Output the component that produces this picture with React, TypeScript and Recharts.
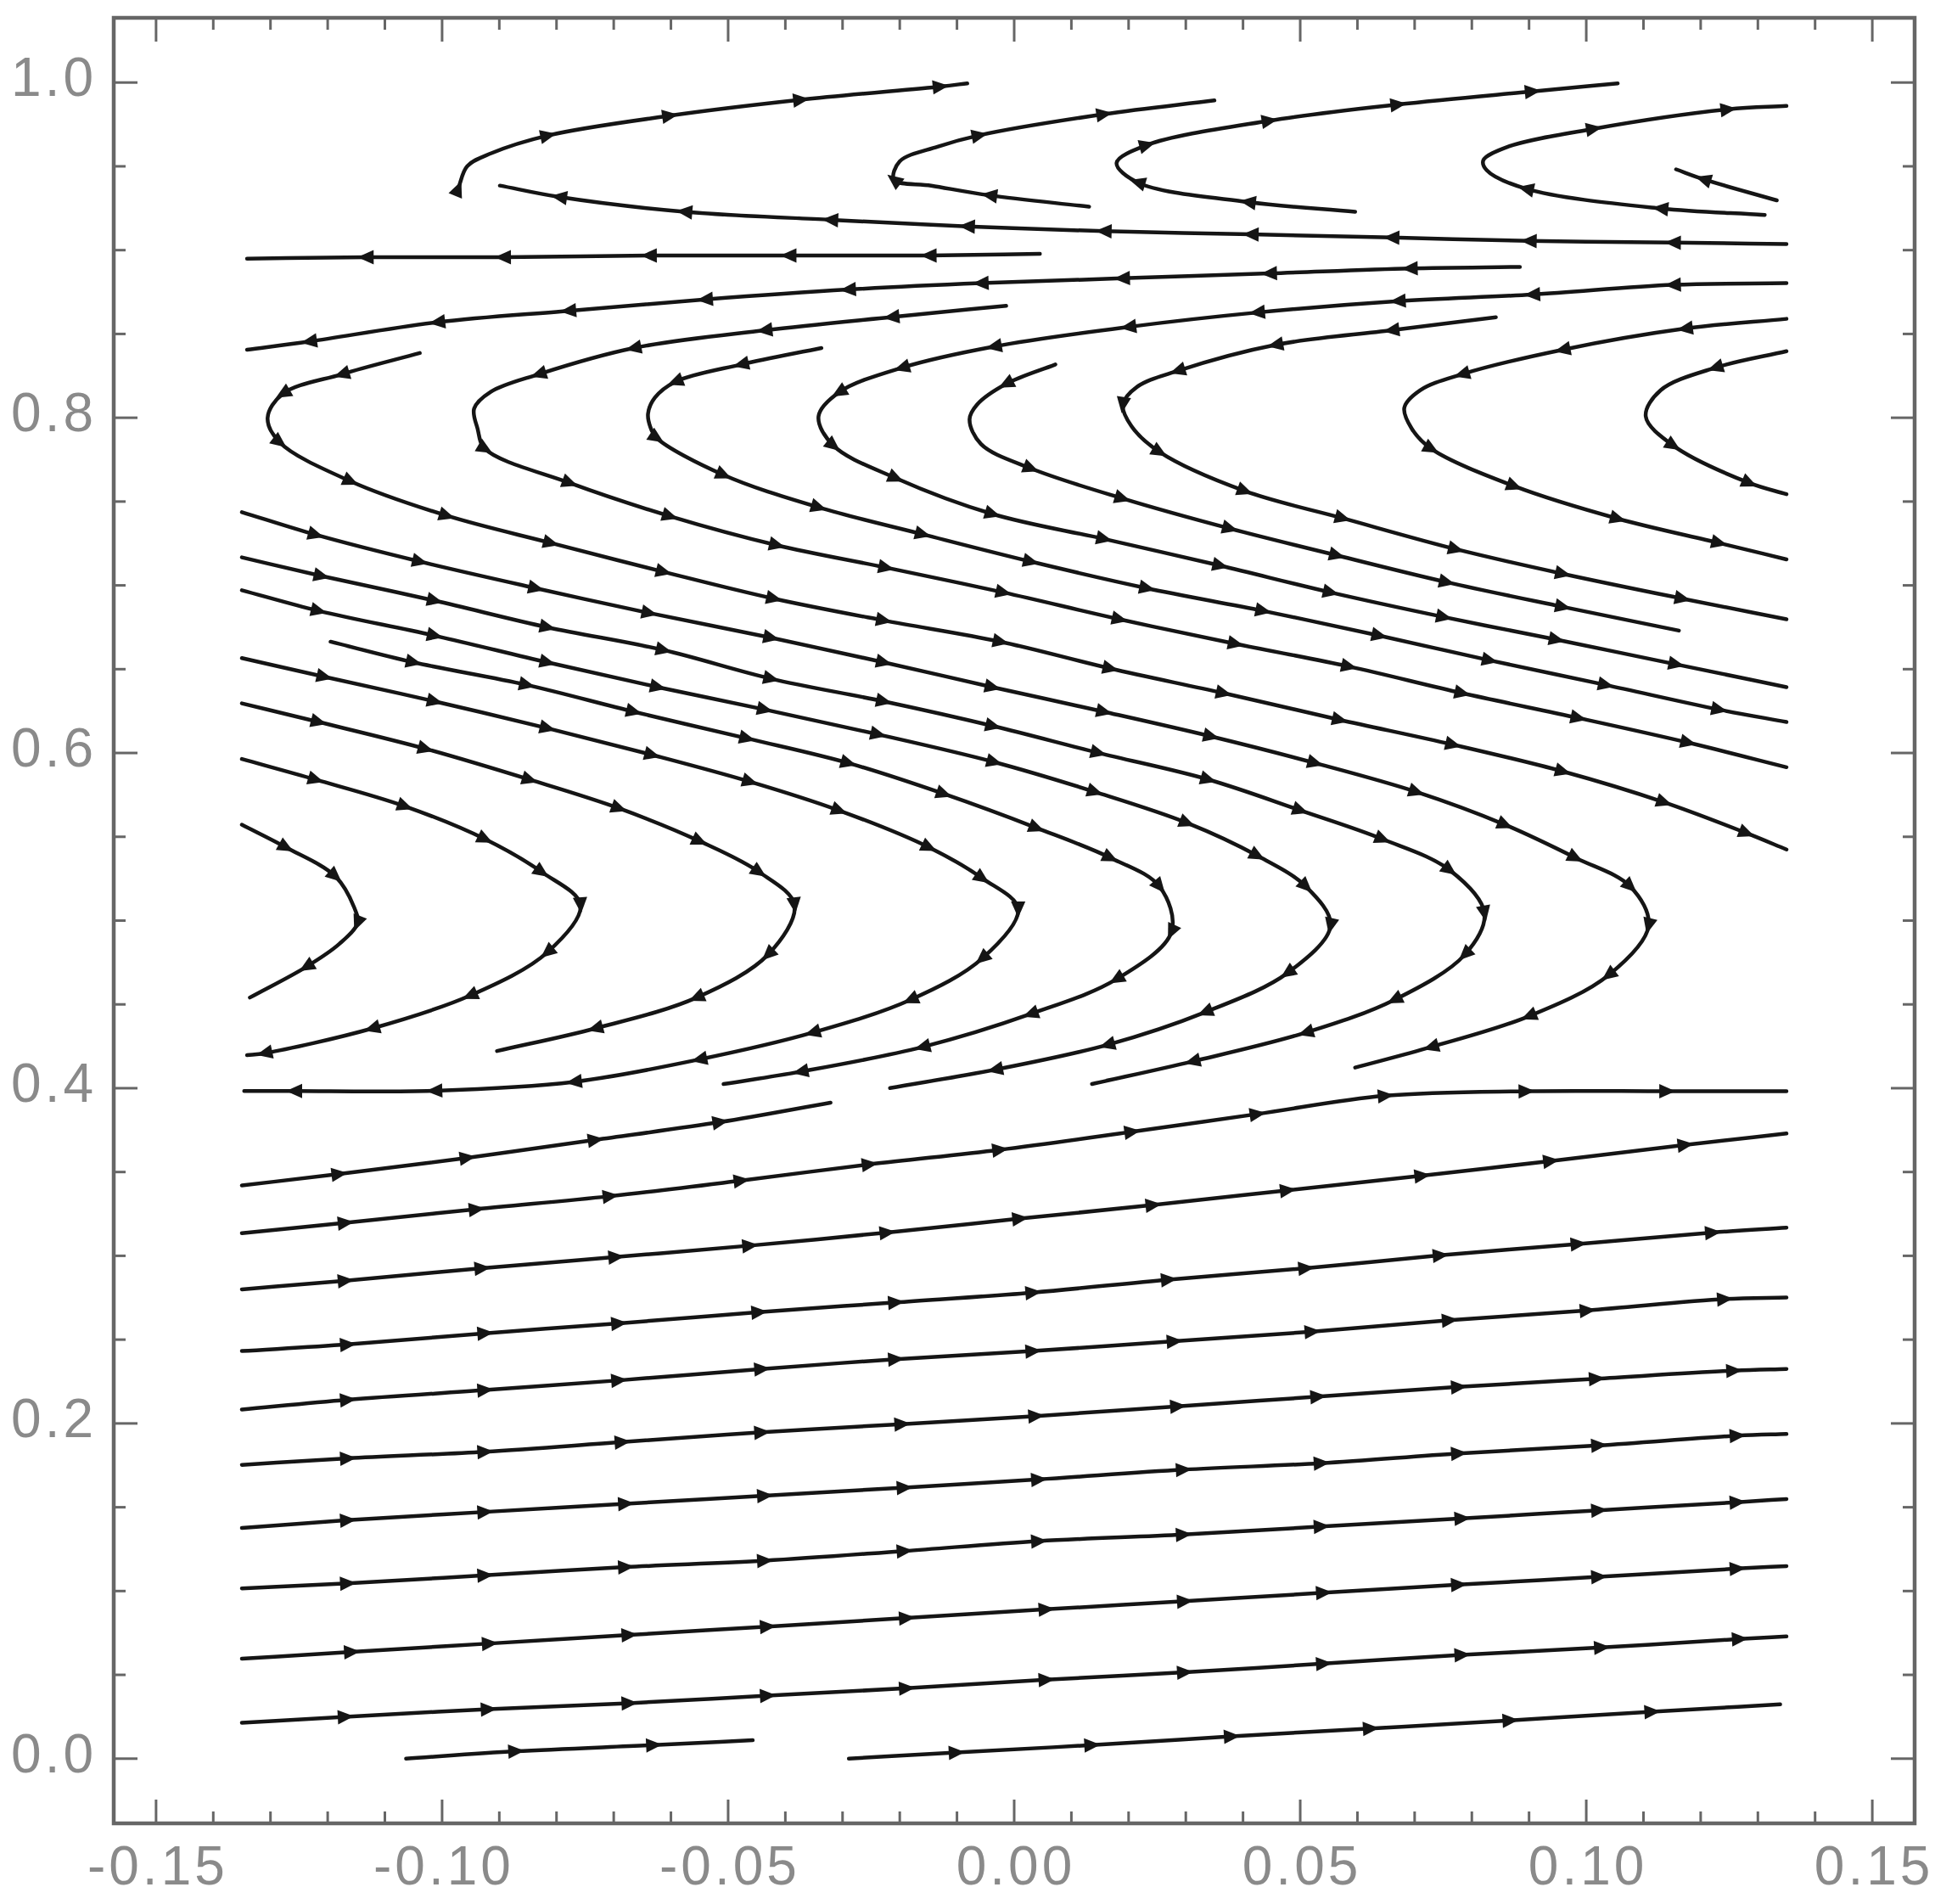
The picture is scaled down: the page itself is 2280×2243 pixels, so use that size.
import React from "react";
import { LineChart, Line, XAxis, YAxis, ReferenceArea } from "recharts";

// page + plot frame (pixels)
const WIDTH = 2280;
const HEIGHT = 2243;
const PLOT = { left: 134, right: 2256, top: 21, bottom: 2148 };

const X_DOMAIN: [number, number] = [-0.1574, 0.1574];
const Y_DOMAIN: [number, number] = [-0.0386, 1.0386];

const xTicks = [
  -0.15, -0.14, -0.13, -0.12, -0.11, -0.1, -0.09, -0.08, -0.07, -0.06, -0.05,
  -0.04, -0.03, -0.02, -0.01, 0, 0.01, 0.02, 0.03, 0.04, 0.05, 0.06, 0.07, 0.08,
  0.09, 0.1, 0.11, 0.12, 0.13, 0.14, 0.15,
];
const yTicks = [
  0, 0.05, 0.1, 0.15, 0.2, 0.25, 0.3, 0.35, 0.4, 0.45, 0.5, 0.55, 0.6, 0.65, 0.7,
  0.75, 0.8, 0.85, 0.9, 0.95, 1.0,
];

type Pt = number[]; // [x, y] or [x, y, 1] when an arrowhead sits on the point

// streamlines, listed in flow order; third value 1 = arrowhead
const rise00a: Pt[] = [[-0.1063, 0.0], [-0.0871, 0.0044, 1], [-0.063, 0.0081, 1], [-0.0457, 0.011]];
const rise00b: Pt[] = [[-0.0289, 0.0], [-0.0101, 0.0037, 1], [0.0136, 0.0081, 1], [0.038, 0.0133, 1], [0.0623, 0.018, 1], [0.0867, 0.0228, 1], [0.1115, 0.028, 1], [0.1339, 0.0324]];
const rise02: Pt[] = [[-0.135, 0.0214], [-0.1169, 0.025, 1], [-0.0919, 0.0295, 1], [-0.0673, 0.0331, 1], [-0.0431, 0.0376, 1], [-0.0188, 0.042, 1], [0.0056, 0.0471, 1], [0.0298, 0.0515, 1], [0.0541, 0.0567, 1], [0.0783, 0.0619, 1], [0.1027, 0.0663, 1], [0.1268, 0.0714, 1], [0.135, 0.0729]];
const rise06: Pt[] = [[-0.135, 0.0596], [-0.1158, 0.0637, 1], [-0.0917, 0.0687, 1], [-0.0673, 0.0738, 1], [-0.0431, 0.0788, 1], [-0.0188, 0.0839, 1], [0.0056, 0.0891, 1], [0.0298, 0.0939, 1], [0.0541, 0.099, 1], [0.0777, 0.1038, 1], [0.1022, 0.1085, 1], [0.1264, 0.1134, 1], [0.135, 0.1149]];
const rise10: Pt[] = [[-0.135, 0.1016], [-0.1165, 0.1046, 1], [-0.0925, 0.1094, 1], [-0.0679, 0.1143, 1], [-0.0436, 0.1181, 1], [-0.0192, 0.1239, 1], [0.0043, 0.1298, 1], [0.0296, 0.1337, 1], [0.0537, 0.1385, 1], [0.0783, 0.1433, 1], [0.1022, 0.1482, 1], [0.1264, 0.153, 1], [0.135, 0.1549]];
const rise14: Pt[] = [[-0.135, 0.1376], [-0.1165, 0.1423, 1], [-0.0925, 0.1472, 1], [-0.0679, 0.1521, 1], [-0.0436, 0.1569, 1], [-0.0192, 0.1617, 1], [0.0043, 0.1666, 1], [0.0296, 0.1724, 1], [0.0537, 0.1763, 1], [0.0777, 0.1821, 1], [0.1022, 0.1869, 1], [0.1264, 0.1927, 1], [0.135, 0.1937]];
const rise18: Pt[] = [[-0.135, 0.1753], [-0.1165, 0.1792, 1], [-0.0925, 0.1831, 1], [-0.0685, 0.1889, 1], [-0.0441, 0.1947, 1], [-0.0196, 0.1996, 1], [0.0038, 0.2044, 1], [0.0286, 0.2102, 1], [0.0531, 0.216, 1], [0.0777, 0.2218, 1], [0.1018, 0.2267, 1], [0.1258, 0.2315, 1], [0.135, 0.2325]];
const rise21: Pt[] = [[-0.135, 0.2083], [-0.1165, 0.2141, 1], [-0.0925, 0.2199, 1], [-0.0691, 0.2257, 1], [-0.0441, 0.2325, 1], [-0.0207, 0.2383, 1], [0.0033, 0.2432, 1], [0.028, 0.249, 1], [0.0521, 0.2548, 1], [0.0761, 0.2616, 1], [0.1002, 0.2674, 1], [0.1242, 0.2742, 1], [0.135, 0.2751]];
const rise24: Pt[] = [[-0.135, 0.2432], [-0.1165, 0.2471, 1], [-0.0925, 0.2538, 1], [-0.0691, 0.2597, 1], [-0.0446, 0.2664, 1], [-0.0207, 0.2722, 1], [0.0033, 0.2781, 1], [0.027, 0.2858, 1], [0.051, 0.2926, 1], [0.0745, 0.3003, 1], [0.0986, 0.3071, 1], [0.1221, 0.3139, 1], [0.135, 0.3168]];
const rise28: Pt[] = [[-0.135, 0.28], [-0.1169, 0.2852, 1], [-0.093, 0.2926, 1], [-0.0696, 0.2993, 1], [-0.0462, 0.3061, 1], [-0.0222, 0.3139, 1], [0.001, 0.3222, 1], [0.0243, 0.3303, 1], [0.0478, 0.3391, 1], [0.0713, 0.3478, 1], [0.0938, 0.3566, 1], [0.1173, 0.3662, 1], [0.135, 0.373]];
const rise31: Pt[] = [[-0.135, 0.3135], [-0.1169, 0.3197, 1], [-0.094, 0.3278, 1], [-0.0706, 0.3356, 1], [-0.0477, 0.3449, 1], [-0.0253, 0.3546, 1], [-0.0025, 0.3633, 1], [0.0206, 0.374, 1], [0.0425, 0.3846, 1], [0.0649, 0.3955, 1], [0.0895, 0.3982, 1], [0.1141, 0.3982, 1], [0.135, 0.3982]];
const rise34: Pt[] = [[-0.135, 0.342], [-0.118, 0.3488, 1], [-0.0956, 0.3585, 1], [-0.0732, 0.3692, 1], [-0.0514, 0.3798, 1], [-0.0321, 0.3914]];

const hook1: Pt[] = [[-0.135, 0.5572], [-0.1273, 0.5437, 1], [-0.1187, 0.5265, 1], [-0.1154, 0.5081], [-0.1148, 0.4985, 1], [-0.118, 0.486], [-0.1237, 0.4725, 1], [-0.1336, 0.4541]];
const hook2: Pt[] = [[-0.135, 0.5964], [-0.1221, 0.5841, 1], [-0.1065, 0.5682, 1], [-0.0925, 0.5486, 1], [-0.0826, 0.529, 1], [-0.0758, 0.5093, 1], [-0.0816, 0.4811, 1], [-0.0951, 0.4553, 1], [-0.1122, 0.4357, 1], [-0.131, 0.4209, 1], [-0.1341, 0.4197]];
const hook3: Pt[] = [[-0.135, 0.6296], [-0.1216, 0.6185, 1], [-0.1029, 0.6025, 1], [-0.0847, 0.5841, 1], [-0.0691, 0.567, 1], [-0.055, 0.5474, 1], [-0.0446, 0.529, 1], [-0.0384, 0.5093, 1], [-0.043, 0.4798, 1], [-0.0555, 0.4541, 1], [-0.0732, 0.4357, 1], [-0.0904, 0.4222]];
const hook4: Pt[] = [[-0.135, 0.6566], [-0.1206, 0.6455, 1], [-0.1013, 0.6308, 1], [-0.0816, 0.6148, 1], [-0.0633, 0.5989, 1], [-0.0462, 0.5829, 1], [-0.0306, 0.5657, 1], [-0.0149, 0.5437, 1], [-0.0056, 0.5253, 1], [0.0007, 0.5069, 1], [-0.0056, 0.4774, 1], [-0.0181, 0.4528, 1], [-0.0352, 0.4332, 1], [-0.055, 0.4172, 1], [-0.0769, 0.4038, 1], [-0.1013, 0.3985, 1], [-0.1258, 0.3983, 1], [-0.1346, 0.3983]];
const hook5: Pt[] = [[-0.1195, 0.6664], [-0.105, 0.6541, 1], [-0.0852, 0.6406, 1], [-0.0665, 0.6246, 1], [-0.0467, 0.6087, 1], [-0.029, 0.594, 1], [-0.0123, 0.5756, 1], [0.0039, 0.5553, 1], [0.0168, 0.5375, 1], [0.0254, 0.5203, 1], [0.0275, 0.4933, 1], [0.0179, 0.4651, 1], [0.0029, 0.4443, 1], [-0.016, 0.4246, 1], [-0.0373, 0.4099, 1], [-0.0508, 0.4025]];
const hook6: Pt[] = [[-0.135, 0.6971], [-0.1216, 0.6848, 1], [-0.1013, 0.67, 1], [-0.0816, 0.6541, 1], [-0.0623, 0.6393, 1], [-0.0436, 0.6259, 1], [-0.0238, 0.6111, 1], [-0.0035, 0.5946, 1], [0.0141, 0.5768, 1], [0.0302, 0.5583, 1], [0.0425, 0.5387, 1], [0.051, 0.5203, 1], [0.0553, 0.497, 1], [0.0478, 0.4688, 1], [0.0334, 0.4454, 1], [0.0163, 0.4259, 1], [-0.0033, 0.4111, 1], [-0.0217, 0.4001]];
const hook7: Pt[] = [[-0.135, 0.7167], [-0.1211, 0.7056, 1], [-0.1013, 0.6909, 1], [-0.0816, 0.675, 1], [-0.0613, 0.6614, 1], [-0.0425, 0.6443, 1], [-0.0228, 0.6308, 1], [-0.0037, 0.6161, 1], [0.0147, 0.6001, 1], [0.0339, 0.5842, 1], [0.05, 0.5658, 1], [0.0644, 0.5486, 1], [0.0761, 0.5302, 1], [0.0822, 0.5044, 1], [0.0788, 0.4798, 1], [0.0665, 0.4528, 1], [0.051, 0.4332, 1], [0.0312, 0.416, 1], [0.0136, 0.4025]];
const hook8: Pt[] = [[-0.135, 0.7437], [-0.1221, 0.7302, 1], [-0.1039, 0.7142, 1], [-0.0836, 0.6983, 1], [-0.0638, 0.6835, 1], [-0.0425, 0.6688, 1], [-0.0228, 0.6541, 1], [-0.0038, 0.6393, 1], [0.0157, 0.6246, 1], [0.0344, 0.6099, 1], [0.0526, 0.594, 1], [0.0703, 0.5768, 1], [0.0858, 0.5572, 1], [0.0981, 0.5375, 1], [0.1077, 0.5203, 1], [0.1109, 0.497, 1], [0.1039, 0.4675, 1], [0.09, 0.443, 1], [0.0729, 0.4246, 1], [0.0596, 0.4123]];

const bend1: Pt[] = [[-0.1039, 0.8386], [-0.1175, 0.826, 1], [-0.1278, 0.8144, 1], [-0.1305, 0.7999], [-0.1284, 0.7854, 1], [-0.116, 0.7621, 1], [-0.0992, 0.7416, 1], [-0.081, 0.7253, 1], [-0.0613, 0.7081, 1], [-0.042, 0.6921, 1], [-0.0228, 0.6791, 1], [-0.0024, 0.6664, 1], [0.0168, 0.6504, 1], [0.0366, 0.6357, 1], [0.0569, 0.6198, 1], [0.0767, 0.605, 1], [0.0959, 0.589, 1], [0.1136, 0.5706, 1], [0.128, 0.5522, 1], [0.135, 0.5424]];
const bend2: Pt[] = [[-0.0014, 0.8668], [-0.0214, 0.8601, 1], [-0.0436, 0.8522, 1], [-0.0665, 0.8416, 1], [-0.0831, 0.826, 1], [-0.0915, 0.8155], [-0.0944, 0.8055], [-0.0938, 0.7935], [-0.0925, 0.7815, 1], [-0.0777, 0.7611, 1], [-0.0602, 0.7413, 1], [-0.0415, 0.724, 1], [-0.0224, 0.7106, 1], [-0.0019, 0.6958, 1], [0.0184, 0.6798, 1], [0.0387, 0.6651, 1], [0.0585, 0.6516, 1], [0.0783, 0.6357, 1], [0.0986, 0.6209, 1], [0.1178, 0.6062, 1], [0.135, 0.5915]];
const bend3: Pt[] = [[-0.0337, 0.8416], [-0.0477, 0.8318, 1], [-0.0592, 0.8215, 1], [-0.0628, 0.812], [-0.064, 0.8025], [-0.0636, 0.7945], [-0.0625, 0.788, 1], [-0.0508, 0.7659, 1], [-0.0342, 0.7466, 1], [-0.016, 0.7305, 1], [0.0029, 0.7142, 1], [0.0232, 0.6983, 1], [0.0435, 0.6848, 1], [0.0638, 0.67, 1], [0.0831, 0.6553, 1], [0.1034, 0.6406, 1], [0.1232, 0.6259, 1], [0.135, 0.6185]];
const bend4: Pt[] = [[0.135, 0.8803], [0.1152, 0.8793, 1], [0.0906, 0.8735, 1], [0.0671, 0.8696, 1], [0.0425, 0.8628, 1], [0.02, 0.8542, 1], [-0.0035, 0.8425, 1], [-0.0196, 0.8299, 1], [-0.0306, 0.8152, 1], [-0.0342, 0.8008], [-0.0316, 0.7834, 1], [-0.0207, 0.764, 1], [-0.0038, 0.7426, 1], [0.0157, 0.7277, 1], [0.036, 0.7118, 1], [0.0553, 0.6958, 1], [0.0751, 0.6811, 1], [0.0948, 0.6676, 1], [0.1157, 0.6529, 1], [0.135, 0.6393]];
const bend5: Pt[] = [[0.0072, 0.8318], [-0.0014, 0.8202, 1], [-0.0065, 0.8078], [-0.0078, 0.799], [-0.0058, 0.7843], [0.0029, 0.7698, 1], [0.0189, 0.7519, 1], [0.0377, 0.7339, 1], [0.0564, 0.7179, 1], [0.0756, 0.7019, 1], [0.0959, 0.6872, 1], [0.1162, 0.673]];
const bend6: Pt[] = [[0.0842, 0.86], [0.066, 0.8522, 1], [0.0457, 0.8435, 1], [0.0286, 0.828, 1], [0.0215, 0.8185], [0.019, 0.8078, 1], [0.0205, 0.7950], [0.0254, 0.7796, 1], [0.0403, 0.7563, 1], [0.0574, 0.7401, 1], [0.0772, 0.7216, 1], [0.0959, 0.7069, 1], [0.1168, 0.6921, 1], [0.135, 0.6798]];
const bend7: Pt[] = [[0.135, 0.859], [0.1173, 0.8532, 1], [0.0959, 0.8406, 1], [0.0783, 0.826, 1], [0.071, 0.8165], [0.0682, 0.806], [0.0695, 0.7935], [0.0729, 0.7815, 1], [0.0874, 0.7592, 1], [0.1055, 0.7398, 1], [0.1232, 0.7253, 1], [0.135, 0.7155]];
const bend8: Pt[] = [[0.135, 0.8397], [0.1226, 0.8299, 1], [0.113, 0.8164], [0.1104, 0.8008], [0.1152, 0.7834, 1], [0.1285, 0.7611, 1], [0.135, 0.7544]];

const band88: Pt[] = [[0.0884, 0.89], [0.0692, 0.8891, 1], [0.0446, 0.8861, 1], [0.0189, 0.8832, 1], [-0.0058, 0.8803, 1], [-0.029, 0.8765, 1], [-0.054, 0.8706, 1], [-0.0779, 0.8638, 1], [-0.1008, 0.857, 1], [-0.1232, 0.8455, 1], [-0.1341, 0.8406]];
const band90: Pt[] = [[0.0045, 0.8978], [-0.0149, 0.8968, 1], [-0.0394, 0.8968, 1], [-0.0638, 0.8968, 1], [-0.0893, 0.8958, 1], [-0.1133, 0.8958, 1], [-0.1341, 0.8949]];

const top1Lower: Pt[] = [[0.135, 0.9036], [0.1152, 0.9045, 1], [0.09, 0.9055, 1], [0.066, 0.9075, 1], [0.0414, 0.9094, 1], [0.0157, 0.9113, 1], [-0.0082, 0.9142, 1], [-0.0321, 0.9181, 1], [-0.0576, 0.9229, 1], [-0.0795, 0.9317, 1], [-0.0899, 0.9385]];
const top1Upper: Pt[] = [[-0.0972, 0.9366, 1], [-0.0956, 0.9501], [-0.0914, 0.9578], [-0.0815, 0.9684, 1], [-0.0602, 0.9802, 1], [-0.0373, 0.9897, 1], [-0.0129, 0.9976, 1], [-0.0082, 0.9995]];
const top2: Pt[] = [[0.0131, 0.9259], [-0.0043, 0.9327, 1], [-0.0145, 0.9385], [-0.021, 0.942, 1], [-0.02, 0.953], [-0.0134, 0.9617], [-0.0061, 0.9685, 1], [0.0157, 0.9811, 1], [0.035, 0.9893]];
const top3: Pt[] = [[0.0596, 0.9229], [0.0409, 0.9287, 1], [0.0216, 0.9404, 1], [0.0179, 0.952], [0.0232, 0.9627, 1], [0.0446, 0.9772, 1], [0.0671, 0.9869, 1], [0.0906, 0.9947, 1], [0.1055, 0.9995]];
const top4: Pt[] = [[0.1312, 0.921], [0.113, 0.9249, 1], [0.0895, 0.9366, 1], [0.0826, 0.9477], [0.082, 0.9536], [0.0863, 0.9617], [0.1013, 0.9724, 1], [0.1248, 0.984, 1], [0.135, 0.986]];
const top5: Pt[] = [[0.1333, 0.9297], [0.1205, 0.9423, 1], [0.1157, 0.9482]];

const streamlines: Pt[][] = [
  rise00a, rise00b, rise02, rise06, rise10, rise14, rise18, rise21, rise24, rise28, rise31, rise34,
  hook1, hook2, hook3, hook4, hook5, hook6, hook7, hook8,
  bend1, bend2, bend3, bend4, bend5, bend6, bend7, bend8,
  band88, band90, top1Lower, top1Upper, top2, top3, top4, top5,
];

const INK = "#151515";
const FRAME = "#666666";
const LABEL = "#8a8a8a";
const FONT = "'Liberation Sans', Arial, sans-serif";

const PX_PER_X = (PLOT.right - PLOT.left) / (X_DOMAIN[1] - X_DOMAIN[0]);
const PX_PER_Y = (PLOT.bottom - PLOT.top) / (Y_DOMAIN[1] - Y_DOMAIN[0]);

// centripetal Catmull-Rom, so uneven point spacing does not kink the curve
const smoothCurve = (context: any) => {
  let pts: number[][] = [];
  return {
    areaStart() {},
    areaEnd() {},
    lineStart() {
      pts = [];
    },
    point(x: number, y: number) {
      pts.push([+x, +y]);
    },
    lineEnd() {
      if (!pts.length) return;
      context.moveTo(pts[0][0], pts[0][1]);
      for (let i = 0; i < pts.length - 1; i++) {
        const p1 = pts[i];
        const p2 = pts[i + 1];
        const p0 = pts[i - 1] || p1;
        const p3 = pts[i + 2] || p2;
        const l01 = Math.hypot(p1[0] - p0[0], p1[1] - p0[1]);
        const l12 = Math.hypot(p2[0] - p1[0], p2[1] - p1[1]);
        const l23 = Math.hypot(p3[0] - p2[0], p3[1] - p2[1]);
        const a01 = Math.sqrt(l01);
        const a12 = Math.sqrt(l12);
        const a23 = Math.sqrt(l23);
        let c1x = p1[0];
        let c1y = p1[1];
        let c2x = p2[0];
        let c2y = p2[1];
        if (a01 > 1e-6) {
          const A = 2 * l01 + 3 * a01 * a12 + l12;
          const N = 3 * a01 * (a01 + a12);
          c1x = (p1[0] * A - p0[0] * l12 + p2[0] * l01) / N;
          c1y = (p1[1] * A - p0[1] * l12 + p2[1] * l01) / N;
        } else {
          c1x = p1[0] + (p2[0] - p1[0]) / 3;
          c1y = p1[1] + (p2[1] - p1[1]) / 3;
        }
        if (a23 > 1e-6) {
          const B = 2 * l23 + 3 * a23 * a12 + l12;
          const M = 3 * a23 * (a23 + a12);
          c2x = (p2[0] * B + p1[0] * l23 - p3[0] * l12) / M;
          c2y = (p2[1] * B + p1[1] * l23 - p3[1] * l12) / M;
        } else {
          c2x = p2[0] - (p2[0] - p1[0]) / 3;
          c2y = p2[1] - (p2[1] - p1[1]) / 3;
        }
        context.bezierCurveTo(c1x, c1y, c2x, c2y, p2[0], p2[1]);
      }
    },
  };
};

const isMajor = (v: number, step: number) => Math.abs(v / step - Math.round(v / step)) < 1e-6;

const XTick = (props: any) => {
  const { x, payload } = props;
  const v = payload.value as number;
  const major = isMajor(v, 0.05);
  const len = major ? 28 : 14;
  return (
    <g>
      <line x1={x} x2={x} y1={PLOT.bottom} y2={PLOT.bottom - len} stroke={FRAME} strokeWidth={3} />
      <line x1={x} x2={x} y1={PLOT.top} y2={PLOT.top + len} stroke={FRAME} strokeWidth={3} />
      {major && (
        <text x={x + 2} y={2220} textAnchor="middle" fontSize={64} letterSpacing={4} fill={LABEL} fontFamily={FONT}>
          {v.toFixed(2)}
        </text>
      )}
    </g>
  );
};

const YTick = (props: any) => {
  const { y, payload } = props;
  const v = payload.value as number;
  const major = isMajor(v, 0.2);
  const len = major ? 28 : 14;
  return (
    <g>
      <line x1={PLOT.left} x2={PLOT.left + len} y1={y} y2={y} stroke={FRAME} strokeWidth={3} />
      <line x1={PLOT.right} x2={PLOT.right - len} y1={y} y2={y} stroke={FRAME} strokeWidth={3} />
      {major && (
        <text x={114} y={y + 16} textAnchor="end" fontSize={64} letterSpacing={4} fill={LABEL} fontFamily={FONT}>
          {v.toFixed(1)}
        </text>
      )}
    </g>
  );
};

// arrowhead drawn on flagged points, pointing along the flow
const makeArrow = (line: Pt[]) => (props: any) => {
  const { cx, cy, index } = props;
  const key = `arrow-${index}`;
  const pt = line[index];
  if (!pt || pt[2] !== 1 || cx == null || cy == null) return <g key={key} />;
  const i0 = Math.max(0, index - 1);
  const i1 = Math.min(line.length - 1, index + 1);
  let dx: number;
  let dy: number;
  const pts = props.points;
  if (pts && pts[i0] && pts[i1]) {
    dx = pts[i1].x - pts[i0].x;
    dy = pts[i1].y - pts[i0].y;
  } else {
    dx = (line[i1][0] - line[i0][0]) * PX_PER_X;
    dy = -(line[i1][1] - line[i0][1]) * PX_PER_Y;
  }
  const n = Math.hypot(dx, dy) || 1;
  const ux = dx / n;
  const uy = dy / n;
  const tipX = cx + ux * 10;
  const tipY = cy + uy * 10;
  const bx = cx - ux * 9;
  const by = cy - uy * 9;
  const w = 8.5;
  return (
    <polygon
      key={key}
      points={`${tipX},${tipY} ${bx - uy * w},${by + ux * w} ${bx + uy * w},${by - ux * w}`}
      fill={INK}
    />
  );
};

const App: React.FC = () => {
  return (
    <div style={{ position: "absolute", left: 0, top: 0, width: WIDTH, height: HEIGHT, background: "#fff" }}>
      <LineChart
        width={WIDTH}
        height={HEIGHT}
        margin={{ top: PLOT.top, right: WIDTH - PLOT.right, bottom: 0, left: 0 }}
      >
        <XAxis
          type="number"
          dataKey="x"
          domain={X_DOMAIN}
          ticks={xTicks}
          interval={0}
          allowDataOverflow
          height={HEIGHT - PLOT.bottom}
          axisLine={false}
          tickLine={false}
          tick={(p: any) => <XTick {...p} />}
        />
        <YAxis
          type="number"
          domain={Y_DOMAIN}
          ticks={yTicks}
          interval={0}
          allowDataOverflow
          width={PLOT.left}
          axisLine={false}
          tickLine={false}
          tick={(p: any) => <YTick {...p} />}
        />
        <ReferenceArea
          x1={X_DOMAIN[0]}
          x2={X_DOMAIN[1]}
          y1={Y_DOMAIN[0]}
          y2={Y_DOMAIN[1]}
          fill="none"
          stroke={FRAME}
          strokeWidth={4.5}
          ifOverflow="visible"
        />
        {streamlines.map((line, i) => (
          <Line
            key={i}
            data={line.map((p) => ({ x: p[0], y: p[1] }))}
            dataKey="y"
            type={smoothCurve as any}
            stroke={INK}
            strokeWidth={4.5}
            strokeLinecap="round"
            dot={makeArrow(line)}
            activeDot={false}
            isAnimationActive={false}
          />
        ))}
      </LineChart>
    </div>
  );
};

export default App;
